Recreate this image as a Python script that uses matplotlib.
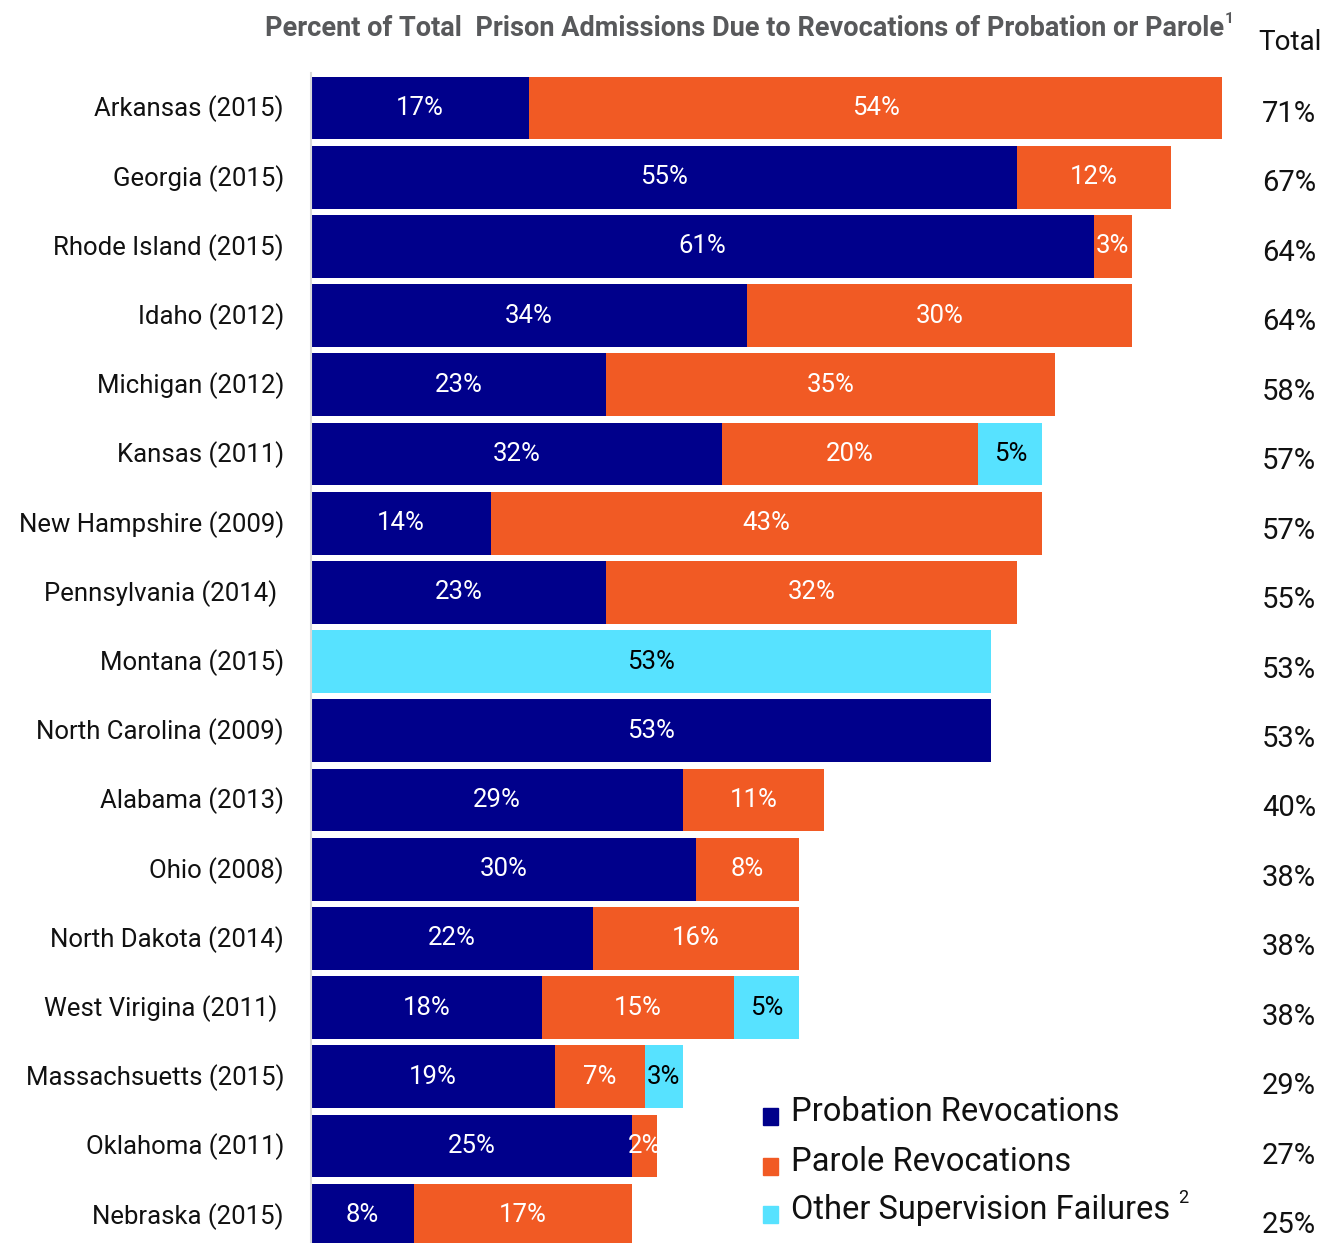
import matplotlib
matplotlib.use("Agg")
import matplotlib.pyplot as plt
from matplotlib.patches import Rectangle
import numpy as np

states = [
    "Arkansas (2015)", "Georgia (2015)", "Rhode Island (2015)", "Idaho (2012)",
    "Michigan (2012)", "Kansas (2011)", "New Hampshire (2009)", "Pennsylvania (2014) ",
    "Montana (2015)", "North Carolina (2009)", "Alabama (2013)", "Ohio (2008)",
    "North Dakota (2014)", "West Virigina (2011) ", "Massachsuetts (2015)",
    "Oklahoma (2011)", "Nebraska (2015)",
]
probation = [17, 55, 61, 34, 23, 32, 14, 23, 0, 53, 29, 30, 22, 18, 19, 25, 8]
parole = [54, 12, 3, 30, 35, 20, 43, 32, 0, 0, 11, 8, 16, 15, 7, 2, 17]
other = [0, 0, 0, 0, 0, 5, 0, 0, 53, 0, 0, 0, 0, 5, 3, 0, 0]
totals = [71, 67, 64, 64, 58, 57, 57, 55, 53, 53, 40, 38, 38, 38, 29, 27, 25]

series_names = ["Probation Revocations", "Parole Revocations", "Other Supervision Failures"]
NAVY, ORANGE, CYAN = "#00008B", "#F15A24", "#57E2FF"
colors = [NAVY, ORANGE, CYAN]
text_colors = ["white", "white", "black"]

FONT = ["Roboto", "DejaVu Sans"]
W, H = 1324, 1243
fig = plt.figure(figsize=(W / 100, H / 100), dpi=100)

# axes laid out in pixels
ax_left, ax_top, ax_bottom = 311, 73, 1243
px_per_unit = 12.83
xmax = (W - ax_left) / px_per_unit
ax = fig.add_axes([ax_left / W, 0, (W - ax_left) / W, (ax_bottom - ax_top) / H])

pitch = 69.2
first_center = 108
y_top = -(first_center - ax_top) / pitch
y_bot = (ax_bottom - first_center) / pitch
ax.set_xlim(0, xmax)
ax.set_ylim(y_bot, y_top)

y = np.arange(len(states))
left = np.zeros(len(states))
for vals, col, tcol in zip([probation, parole, other], colors, text_colors):
    vals = np.array(vals, dtype=float)
    ax.barh(y, vals, left=left, height=0.91, color=col, linewidth=0)
    for yi, (l, v) in enumerate(zip(left, vals)):
        if v > 0:
            ax.text(l + v / 2, yi, f"{int(v)}%", ha="center", va="center",
                    color=tcol, fontsize=18.5, family=FONT)
    left = left + vals

ax.set_yticks([])
ax.set_xticks([])
for s in ["top", "right", "bottom"]:
    ax.spines[s].set_visible(False)
ax.spines["left"].set_color("#d9d9d9")
ax.spines["left"].set_linewidth(1.5)

# state labels
for yi, name in enumerate(states):
    ax.annotate(name, xy=(0, yi), xycoords="data", xytext=(-27, -1),
                textcoords="offset pixels", ha="right", va="center",
                fontsize=18.5, color="#111111", family=FONT)

# totals column
for yi, t in enumerate(totals):
    fig.text(1289 / W, 1 - (first_center + yi * pitch + 6 + yi * 0.25) / H, f"{t}%",
             ha="center", va="center", fontsize=21, color="#111111", family=FONT)

fig.text(1290 / W, 1 - 43 / H, "Total", ha="center", va="center", fontsize=20,
         color="#111111", family=FONT)

title = fig.text(1224 / W, 1 - 28 / H,
                 "Percent of Total  Prison Admissions Due to Revocations of Probation or Parole",
                 ha="right", va="center", fontsize=19.5, fontweight="bold", color="#58595B",
                 family=FONT)
fig.text(1225 / W, 1 - 19 / H, "1", ha="left", va="center", fontsize=11,
         fontweight="bold", color="#58595B", family=FONT)

# legend
leg_y = [1112, 1162, 1210]
for name, col, ly in zip(series_names, colors, leg_y):
    fig.patches.append(Rectangle((763 / W, 1 - (ly + 13) / H), 15 / W, 17 / H,
                                 transform=fig.transFigure, color=col))
    t = fig.text(791 / W, 1 - ly / H, name, ha="left", va="center", fontsize=23.5,
                 color="#111111", family=FONT)
    if name.startswith("Other"):
        fig.canvas.draw()
        bb = t.get_window_extent()
        fig.text((bb.x1 + 8) / W, 1 - (ly - 12) / H, "2", ha="left", va="center",
                 fontsize=13, color="#111111", family=FONT)

fig.savefig("out.png", dpi=100)
